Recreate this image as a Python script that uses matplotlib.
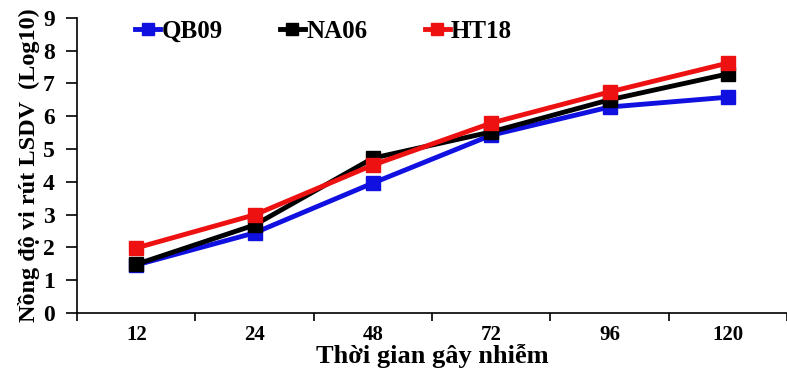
import matplotlib.pyplot as plt
import numpy as np

plt.rcParams['font.family'] = ['Liberation Serif', 'DejaVu Serif']
plt.rcParams['font.weight'] = 'bold'

hours = ["12", "24", "48", "72", "96", "120"]
qb09 = [1.46, 2.44, 3.96, 5.42, 6.28, 6.58]
na06 = [1.48, 2.68, 4.72, 5.52, 6.50, 7.29]
ht18 = [1.98, 2.99, 4.51, 5.79, 6.74, 7.62]

series = [("QB09", qb09, "#1010e0"), ("NA06", na06, "black"), ("HT18", ht18, "#ee1111")]

fig = plt.figure(figsize=(7.87, 3.72), dpi=100)
ax = fig.add_axes([0.098, 0.159, 0.902, 0.793])

x = np.arange(len(hours))
for name, vals, col in series:
    ax.plot(x, vals, color=col, lw=3.5, marker="s", ms=10, label=name)

ax.set_xlim(-0.5, len(hours) - 0.5)
ax.set_ylim(0, 9)
ax.set_yticks(range(10))
ax.set_xticks(x)
ax.set_xticklabels(hours)
ax.set_xticks(np.arange(-0.5, len(hours)), minor=True)
ax.tick_params(axis="x", which="major", length=0, pad=9, labelsize=15)
ax.tick_params(axis="x", which="minor", length=6, width=1.2)
ax.tick_params(axis="y", length=8, width=1.2, labelsize=17, pad=8)
for lbl in ax.get_xticklabels() + ax.get_yticklabels():
    lbl.set_fontweight("bold")

ax.spines["top"].set_visible(False)
ax.spines["right"].set_visible(False)
ax.spines["left"].set_linewidth(1.2)
ax.spines["bottom"].set_linewidth(1.2)

ax.set_xlabel("Thời gian gây nhiễm", fontsize=19, fontweight="bold", labelpad=-1)
ax.set_ylabel("Nồng độ vi rút LSDV  (Log10)", fontsize=17.5, fontweight="bold", labelpad=2)

ax.legend(loc="upper left", bbox_to_anchor=(0.05, 1.07), ncol=3, frameon=False,
          handlelength=1.0, handletextpad=0.05, columnspacing=2.3,
          markerscale=0.8, prop={"weight": "bold", "size": 18})

fig.savefig("out.png", dpi=100)
